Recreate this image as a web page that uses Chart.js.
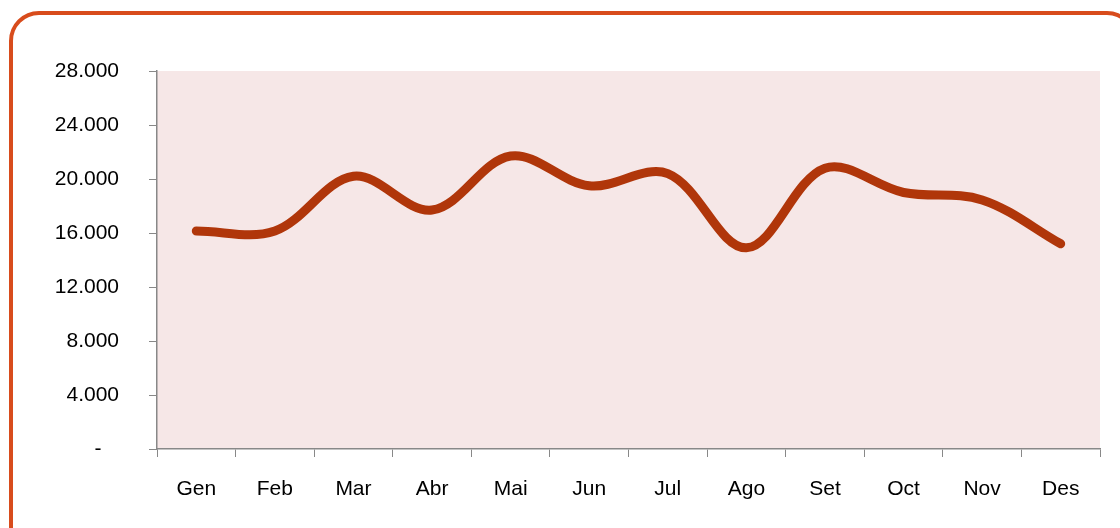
<!DOCTYPE html>
<html lang="it">
<head>
    <meta charset="UTF-8">
    <title>Andamento mensile</title>
    <script src="https://cdn.jsdelivr.net/npm/chart.js"></script>
    <style>
        html, body {
            margin: 0;
            padding: 0;
            background: #fff;
            overflow: hidden;
        }
        .cornice {
            position: absolute;
            left: 9px;
            top: 11px;
            width: 1120px;
            height: 560px;
            border: 4px solid #d84c1c;
            border-radius: 30px;
        }
        .area {
            position: absolute;
            left: 0;
            top: 0;
            width: 1120px;
            height: 528px;
        }
    </style>
</head>
<body>
    <div class="cornice"></div>
    <div class="area">
        <canvas id="grafico" width="1120" height="528"></canvas>
    </div>
    <script>
    // dati del grafico
    var mesi = ['Gen', 'Feb', 'Mar', 'Abr', 'Mai', 'Jun', 'Jul', 'Ago', 'Set', 'Oct', 'Nov', 'Des'];
    var valori = [16150, 16150, 20200, 17700, 21700, 19500, 20400, 14900, 20800, 19000, 18450, 15200];
    var yMin = 0;
    var yMax = 28000;
    var yPasso = 4000;

    // sfondo rosa dell'area del grafico
    var sfondoArea = {
        id: 'sfondoArea',
        beforeDraw: function (chart) {
            var ctx = chart.ctx;
            var a = chart.chartArea;
            ctx.save();
            ctx.fillStyle = '#f6e7e7';
            ctx.fillRect(a.left, a.top, a.right - a.left, a.bottom - a.top);
            ctx.restore();
        }
    };

    function formatoNumero(v) {
        if (v === 0) return '-\u00a0\u00a0\u00a0';
        return v.toLocaleString('de-DE');
    }

    var ctx = document.getElementById('grafico').getContext('2d');
    var grafico = new Chart(ctx, {
        type: 'line',
        data: {
            labels: mesi,
            datasets: [{
                data: valori,
                borderColor: '#b0360a',
                borderWidth: 9,
                borderCapStyle: 'round',
                borderJoinStyle: 'round',
                pointRadius: 0,
                tension: 0.35,
                fill: false
            }]
        },
        options: {
            responsive: false,
            animation: false,
            layout: {
                padding: { left: 0, right: 20, top: 71, bottom: 0 }
            },
            plugins: {
                legend: { display: false },
                tooltip: { enabled: false }
            },
            scales: {
                x: {
                    offset: true,
                    grid: {
                        offset: true,
                        drawOnChartArea: false,
                        drawTicks: true,
                        tickLength: 8,
                        tickColor: '#888'
                    },
                    border: { display: true, color: '#888', width: 1.5 },
                    ticks: {
                        color: '#000',
                        padding: 20,
                        maxRotation: 0,
                        font: { family: 'Liberation Sans, Arial', size: 21 }
                    },
                    afterFit: function (scale) { scale.height = 528 - 449; }
                },
                y: {
                    min: yMin,
                    max: yMax,
                    grid: {
                        drawOnChartArea: false,
                        drawTicks: true,
                        tickLength: 8,
                        tickColor: '#888'
                    },
                    border: { display: true, color: '#888', width: 1.5 },
                    ticks: {
                        stepSize: yPasso,
                        color: '#000',
                        padding: 30,
                        font: { family: 'Liberation Sans, Arial', size: 21 },
                        callback: function (v) { return formatoNumero(v); }
                    },
                    afterFit: function (scale) { scale.width = 157; }
                }
            }
        },
        plugins: [sfondoArea]
    });
    </script>
</body>
</html>
